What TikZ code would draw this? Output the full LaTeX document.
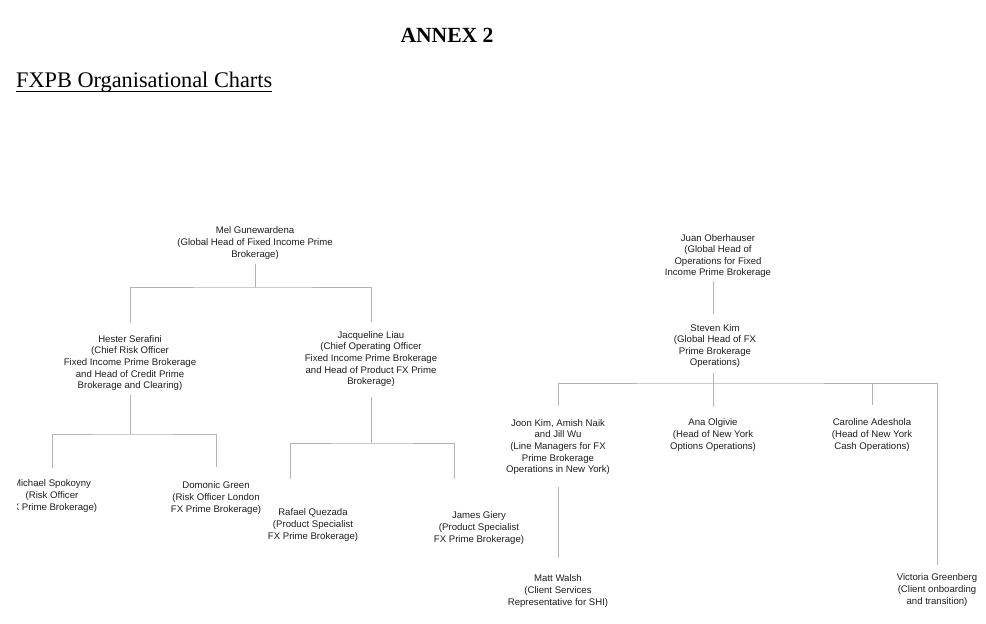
\documentclass[tikz,border=0pt]{standalone}
\usepackage{fontspec}
\usepackage{tikz}
\usetikzlibrary{positioning, calc}
\newfontfamily\chartfont{Liberation Sans}
\newfontfamily\titlefont{Liberation Serif}
\definecolor{inkgrey}{RGB}{30,30,30}
\definecolor{wiregrey}{RGB}{178,178,178}

\begin{document}
\begin{tikzpicture}[
  x=1pt, y=-1pt,
  person/.style={align=center, inner sep=0pt, outer sep=0pt, text=inkgrey,
                 font=\chartfont\fontsize{9.6}{11.6}\selectfont},
  heading/.style={inner sep=0pt, font=\titlefont\fontsize{21.6}{24}\selectfont},
  link/.style={draw=wiregrey, line width=0.8pt}
]
\path[fill=white, use as bounding box] (0,0) rectangle (986,624);

% titles
\node[heading, anchor=base] (annex) at (447,42) {\bfseries ANNEX 2};
\node[heading, anchor=base west, font=\titlefont\fontsize{22.3}{24}\selectfont] (charts) at (16,87) {FXPB Organisational Charts};
\draw[line width=0.9pt] ([yshift=-4pt]charts.base west) -- ([yshift=-4pt]charts.base east);

% fixed income prime brokerage
\node[person] (mel) at (255,243) {Mel Gunewardena\\(Global Head of Fixed Income Prime\\Brokerage)};
\node[person] (hester) at (130,363) {Hester Serafini\\(Chief Risk Officer\\Fixed Income Prime Brokerage\\and Head of Credit Prime\\Brokerage and Clearing)};
\node[person] (jacq) at (371,359) {Jacqueline Liau\\(Chief Operating Officer\\Fixed Income Prime Brokerage\\and Head of Product FX Prime\\Brokerage)};
\begin{scope}
  \clip (17,470) rectangle (140,520);
  \node[person] (michael) at (52,496) {Michael Spokoyny\\(Risk Officer\\FX Prime Brokerage)};
\end{scope}
\node[person] (domonic) at (216,498) {Domonic Green\\(Risk Officer London\\FX Prime Brokerage)};
\node[person] (rafael) at (313,525) {Rafael Quezada\\(Product Specialist\\FX Prime Brokerage)};
\node[person] (james) at (479,528) {James Giery\\(Product Specialist\\FX Prime Brokerage)};

% operations
\node[person] (juan) at (718,256) {Juan Oberhauser\\(Global Head of\\Operations for Fixed\\Income Prime Brokerage};
\node[person] (steven) at (715,346) {Steven Kim\\(Global Head of FX\\Prime Brokerage\\Operations)};
\node[person] (joon) at (558,447) {Joon Kim, Amish Naik\\and Jill Wu\\(Line Managers for FX\\Prime Brokerage\\Operations in New York)};
\node[person] (ana) at (713,435) {Ana Olgivie\\(Head of New York\\Options Operations)};
\node[person] (caroline) at (872,435) {Caroline Adeshola\\(Head of New York\\Cash Operations)};
\node[person] (matt) at (558,591) {Matt Walsh\\(Client Services\\Representative for SHI)};
\node[person] (victoria) at (937,590) {Victoria Greenberg\\(Client onboarding\\and transition)};

% junctions
\coordinate (fibus) at (255,287);
\coordinate (riskbus) at (130,434);
\coordinate (prodbus) at (372,443);
\coordinate (prodL) at (290,479);
\coordinate (prodR) at (454,479);
\coordinate (opsbus) at (713,383);

\draw[link, shorten <=5pt] (mel.south) -- (fibus);
\draw[link, shorten <=12pt, shorten >=9pt] (hester.north) |- (fibus) -| (jacq.north);
\draw[link, shorten <=4pt] (hester.south) -- (riskbus);
\draw[link, shorten <=12pt, shorten >=15pt] (michael.north) |- (riskbus) -| (domonic.north);
\draw[link, shorten <=10pt] (jacq.south) -- (jacq.south |- prodbus);
\draw[link] (prodL) |- (prodbus) -| (prodR);

\draw[link, shorten <=3pt, shorten >=10pt] (juan.south -| opsbus) -- (steven.north -| opsbus);
\draw[link, shorten <=5pt] (steven.south -| opsbus) -- (opsbus);
\draw[link, shorten <=13pt, shorten >=9pt] (joon.north) |- (opsbus) -| (victoria.north);
\draw[link, shorten >=12pt] (opsbus) -- (ana.north);
\draw[link, shorten >=14pt] (opsbus -| caroline.north) -- (caroline.north);
\draw[link, shorten <=12pt, shorten >=17pt] (joon.south) -- (matt.north);
\end{tikzpicture}
\end{document}
